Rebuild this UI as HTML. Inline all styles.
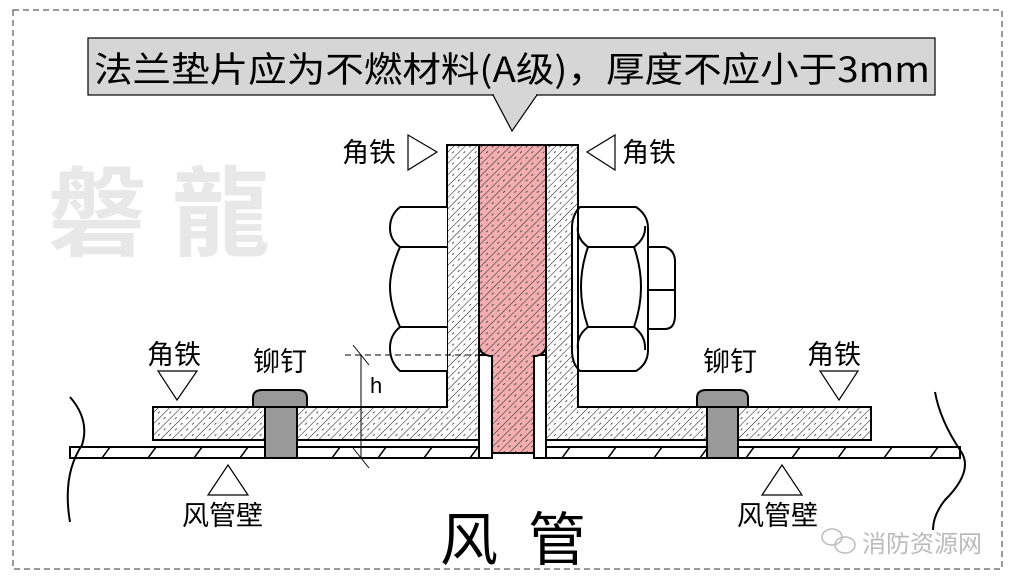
<!DOCTYPE html>
<html><head><meta charset="utf-8"><style>
html,body{margin:0;padding:0;background:#fff;}
svg{display:block;}
text{font-family:"Liberation Sans","Noto Sans CJK SC",sans-serif;}
</style></head><body>
<svg width="1020" height="586" viewBox="0 0 1020 586" xmlns="http://www.w3.org/2000/svg">
<defs>
<pattern id="hat" width="8" height="8" patternUnits="userSpaceOnUse" patternTransform="rotate(45)">
<rect width="8" height="8" fill="#fff"/>
<line x1="0" y1="0" x2="0" y2="8" stroke="#111" stroke-width="1"/>
<line x1="4" y1="2" x2="4" y2="4.5" stroke="#333" stroke-width="0.8"/>
</pattern>
<pattern id="hatr" width="8" height="8" patternUnits="userSpaceOnUse" patternTransform="rotate(45)">
<rect width="8" height="8" fill="#f2aeb0"/>
<line x1="0" y1="0" x2="0" y2="8" stroke="#222" stroke-width="1"/>
<line x1="4" y1="2" x2="4" y2="4.5" stroke="#333" stroke-width="0.8"/>
</pattern>
<pattern id="wall" width="46" height="11" patternUnits="userSpaceOnUse" x="0" y="447">
<rect width="46" height="11" fill="#fff"/>
<line x1="10" y1="11" x2="18" y2="0" stroke="#000" stroke-width="1.5"/>
</pattern>
</defs>
<rect x="13" y="10" width="989" height="559" fill="none" stroke="#333" stroke-width="1" stroke-dasharray="6,4"/>
<!-- watermark -->
<text x="48" y="248" font-size="98" font-weight="bold" fill="#e8e8e8" letter-spacing="26" font-family="Noto Sans CJK SC, sans-serif">磐龍</text>
<!-- top label -->
<rect x="88" y="38" width="847" height="57" fill="#d6d6d6" stroke="#000" stroke-width="1.2"/>
<text x="94" y="82" font-size="35" fill="#000" textLength="836" lengthAdjust="spacingAndGlyphs" style="font-family:'Noto Sans CJK SC',sans-serif">法兰垫片应为不燃材料(A级)，厚度不应小于3mm</text>
<polygon points="493,95 537,95 512,131" fill="#d6d6d6" stroke="#000" stroke-width="1.2"/>
<line x1="494" y1="95" x2="536" y2="95" stroke="#d6d6d6" stroke-width="2"/>
<!-- duct walls -->
<rect x="70" y="447" width="410" height="11" fill="url(#wall)" stroke="#000" stroke-width="2"/>
<rect x="534" y="447" width="426" height="11" fill="url(#wall)" stroke="#000" stroke-width="2"/>
<rect x="479" y="355" width="13" height="103" fill="url(#wall)" stroke="#000" stroke-width="2"/>
<rect x="534" y="355" width="12" height="103" fill="url(#wall)" stroke="#000" stroke-width="2"/>
<!-- angles -->
<path d="M447,145 H479 V440 H153 V407 H447 Z" fill="url(#hat)" stroke="#000" stroke-width="2"/>
<path d="M546,145 H578 V407 H871 V440 H546 Z" fill="url(#hat)" stroke="#000" stroke-width="2"/>
<!-- gasket -->
<path d="M479,145 H546 V345 Q546,354 536,356 H534 V453 H492 V356 H490 Q479,354 479,345 Z" fill="url(#hatr)" stroke="#000" stroke-width="2"/>
<!-- left bolt head -->
<g fill="#fff" stroke="#000" stroke-width="2">
<path d="M447,207 H400 Q390,215 390,228 Q390,240 400,247 Q390,270 390,287 Q390,305 400,327 Q390,335 390,348 Q390,362 400,371 H447"/>
<line x1="400" y1="247" x2="447" y2="247"/><line x1="400" y1="327" x2="447" y2="327"/>
<!-- bolt end -->
<path d="M640,247 H665 Q675,250 675,262 V315 Q675,329 665,329 H640 Z"/>
<line x1="648" y1="290" x2="675" y2="290"/>
<!-- right nut -->
<path d="M580,207 H636 Q648,215 648,228 V350 Q648,364 636,371 H580 Q572,364 572,350 V228 Q572,215 580,207 Z"/>
<path d="M588,247 H634 Q648,287 634,327 H588 Q574,287 588,247 Z"/>
<path d="M588,247 Q576,238 578,226" fill="none"/><path d="M634,247 Q646,238 645,226" fill="none"/>
<path d="M588,327 Q576,336 578,350" fill="none"/><path d="M634,327 Q646,336 645,350" fill="none"/>
</g>
<line x1="578" y1="207" x2="578" y2="371" stroke="#000" stroke-width="2"/>
<!-- rivets -->
<g fill="#999" stroke="#000" stroke-width="2">
<path d="M253,407 V398 Q253,390 262,390 H298 Q307,390 307,398 V407 Z"/>
<rect x="265" y="407" width="32" height="51"/>
<path d="M697,407 V398 Q697,390 706,390 H739 Q748,390 748,398 V407 Z"/>
<rect x="707" y="407" width="31" height="51"/>
</g>
<!-- wavy ends -->
<path d="M70,397 Q90,420 82,445 Q62,475 70,522" fill="none" stroke="#000" stroke-width="2"/>
<path d="M935,392 Q940,420 960,450 Q975,470 945,500 Q933,515 933,530" fill="none" stroke="#000" stroke-width="2"/>
<!-- h dimension -->
<line x1="345" y1="355" x2="480" y2="355" stroke="#000" stroke-width="1" stroke-dasharray="6,4"/>
<line x1="361" y1="355" x2="361" y2="458" stroke="#000" stroke-width="1"/>
<line x1="353" y1="345" x2="369" y2="365" stroke="#000" stroke-width="1"/>
<line x1="353" y1="448" x2="369" y2="468" stroke="#000" stroke-width="1"/>
<text x="370" y="393" font-size="22">h</text>
<!-- pointer triangles -->
<g fill="#fff" stroke="#000" stroke-width="1.2">
<polygon points="408,135 408,170 437,152"/>
<polygon points="615,135 615,170 587,152"/>
<polygon points="158,371 197,371 177,400"/>
<polygon points="820,371 858,371 839,400"/>
<polygon points="208,495 248,495 228,465"/>
<polygon points="762,495 802,495 782,465"/>
</g>
<g font-size="27" fill="#000">
<text x="342" y="162">角铁</text>
<text x="622" y="162">角铁</text>
<text x="147" y="364">角铁</text>
<text x="253" y="371">铆钉</text>
<text x="703" y="371">铆钉</text>
<text x="807" y="364">角铁</text>
<text x="182" y="525">风管壁</text>
<text x="737" y="525">风管壁</text>
</g>
<text x="440" y="560" font-size="58" fill="#000" letter-spacing="30">风管</text>
<!-- wechat mark -->
<g fill="none" stroke="#bbb" stroke-width="1.5">
<ellipse cx="832" cy="537" rx="10" ry="8"/><ellipse cx="845" cy="545" rx="10" ry="8"/>
</g>
<text x="862" y="552" font-size="24" fill="#bbb">消防资源网</text>
</svg>
</body></html>
